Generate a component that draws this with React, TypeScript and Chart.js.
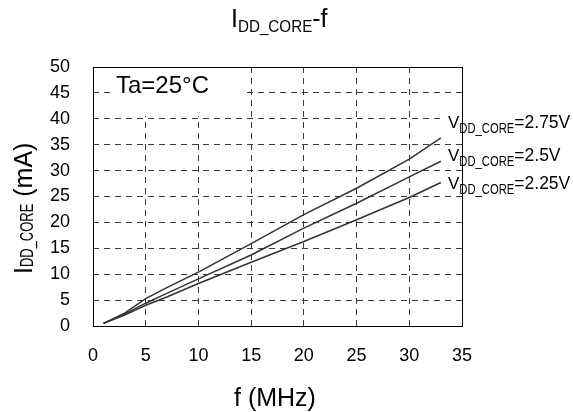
import React, { useEffect, useRef } from "react";
import { Chart, registerables } from "chart.js";

Chart.register(...registerables);

// ---- data ----
const freqMHz = [1, 3, 5, 7, 10, 15, 20, 25, 30, 33];
const iddAt275V = [0.5, 2.5, 5.3, 7.4, 10.4, 15.9, 21.5, 26.6, 32.2, 36.3];
const iddAt250V = [0.5, 2.3, 4.4, 6.3, 9.1, 13.7, 18.9, 23.7, 28.8, 31.8];
const iddAt225V = [0.5, 2.1, 4.0, 5.6, 8.2, 12.3, 16.3, 20.5, 24.8, 27.7];
const seriesValues = ["=2.75V", "=2.5V", "=2.25V"];
const xRange = [0, 35];
const yRange = [0, 50];
const tickStep = 5;

const FONT = '"Liberation Sans", Arial, Helvetica, sans-serif';

type Part = { text: string; size: number; dy?: number; sx?: number };

function drawRich(ctx: CanvasRenderingContext2D, parts: Part[], x: number, y: number) {
  let cx = x;
  for (const p of parts) {
    ctx.font = `${p.size}px ${FONT}`;
    const w = ctx.measureText(p.text).width;
    const sx = p.sx ?? 1;
    ctx.save();
    ctx.translate(cx, y + (p.dy || 0));
    ctx.scale(sx, 1);
    ctx.fillText(p.text, 0, 0);
    ctx.restore();
    cx += w * sx;
  }
  return cx - x;
}

const textPlugin = {
  id: "textPlugin",
  afterDraw(chart: any) {
    const ctx: CanvasRenderingContext2D = chart.ctx;
    const a = chart.chartArea;
    ctx.save();
    ctx.fillStyle = "#fff";
    // box behind Ta label
    ctx.fillRect(112, a.top + 1, 134, 48);
    // boxes behind series labels
    const labelBase = [128.3, 161, 189.3];
    labelBase.forEach((b) => ctx.fillRect(445, b - 15, a.right - 445, 19));

    // plot border
    ctx.strokeStyle = "#000";
    ctx.lineWidth = 1;
    ctx.setLineDash([]);
    ctx.strokeRect(Math.round(a.left) + 0.5, Math.round(a.top) + 0.5, Math.round(a.right - a.left), Math.round(a.bottom - a.top));

    ctx.fillStyle = "#000";
    ctx.textAlign = "left";
    ctx.textBaseline = "alphabetic";

    // title
    drawRich(ctx, [
      { text: "I", size: 25 },
      { text: "DD_CORE", size: 16, dy: 5, sx: 0.95 },
      { text: "-f", size: 25 },
    ], 231, 26.7);

    // x title
    ctx.font = `25px ${FONT}`;
    ctx.fillText("f (MHz)", 234, 406);

    // y title (rotated)
    ctx.save();
    ctx.translate(32, 274);
    ctx.rotate(-Math.PI / 2);
    drawRich(ctx, [
      { text: "I", size: 25 },
      { text: "DD_CORE", size: 18, dy: 1, sx: 0.72 },
      { text: " (mA)", size: 25 },
    ], 0, 0);
    ctx.restore();

    // Ta annotation
    ctx.font = `24px ${FONT}`;
    ctx.fillText("Ta=25°C", 116, 93.3);

    // series labels
    seriesValues.forEach((v, i) => {
      drawRich(ctx, [
        { text: "V", size: 17 },
        { text: "DD_CORE", size: 14.8, dy: 5, sx: 0.76 },
        { text: v, size: 17.5 },
      ], 448, labelBase[i]);
    });
    ctx.restore();
  },
};

export default function App() {
  const ref = useRef<HTMLCanvasElement | null>(null);
  useEffect(() => {
    if (!ref.current) return;
    const mk = (ys: number[]) => freqMHz.map((f, i) => ({ x: f, y: ys[i] }));
    const lineStyle = {
      borderColor: "#333",
      borderWidth: 1.5,
      pointRadius: 0,
      fill: false,
      tension: 0,
    };
    const gridColor = (edgeA: number, edgeB: number) => (c: any) =>
      c.tick && (c.tick.value === edgeA || c.tick.value === edgeB) ? "rgba(0,0,0,0)" : "#3a3a3a";
    const chart = new Chart(ref.current, {
      type: "line",
      data: {
        datasets: [
          { label: "2.75V", data: mk(iddAt275V), ...lineStyle },
          { label: "2.5V", data: mk(iddAt250V), ...lineStyle },
          { label: "2.25V", data: mk(iddAt225V), ...lineStyle },
        ],
      },
      options: {
        animation: false,
        responsive: false,
        maintainAspectRatio: false,
        events: [],
        layout: { padding: { left: 0, top: 67, right: 111, bottom: 0 } },
        plugins: {
          legend: { display: false },
          tooltip: { enabled: false },
          title: { display: false },
        },
        scales: {
          x: {
            type: "linear",
            min: xRange[0],
            max: xRange[1],
            ticks: {
              stepSize: tickStep,
              color: "#000",
              font: { family: FONT, size: 18 },
              padding: 19,
              maxRotation: 0,
            },
            grid: { color: gridColor(xRange[0], xRange[1]), lineWidth: 1, drawTicks: false },
            border: { display: false, dash: [6, 5] },
            afterFit: (s: any) => {
              s.height = 86;
            },
          },
          y: {
            type: "linear",
            min: yRange[0],
            max: yRange[1],
            ticks: {
              stepSize: tickStep,
              color: "#000",
              font: { family: FONT, size: 18 },
              padding: 23,
            },
            grid: { color: gridColor(yRange[0], yRange[1]), lineWidth: 1, drawTicks: false },
            border: { display: false, dash: [6, 5] },
            afterFit: (s: any) => {
              s.width = 93;
            },
          },
        },
      },
      plugins: [textPlugin],
    } as any);
    return () => chart.destroy();
  }, []);
  return (
    <div style={{ position: "fixed", left: 0, top: 0, width: 573, height: 412, background: "#fff" }}>
      <canvas ref={ref} width={573} height={412} style={{ width: 573, height: 412, display: "block" }} />
    </div>
  );
}
